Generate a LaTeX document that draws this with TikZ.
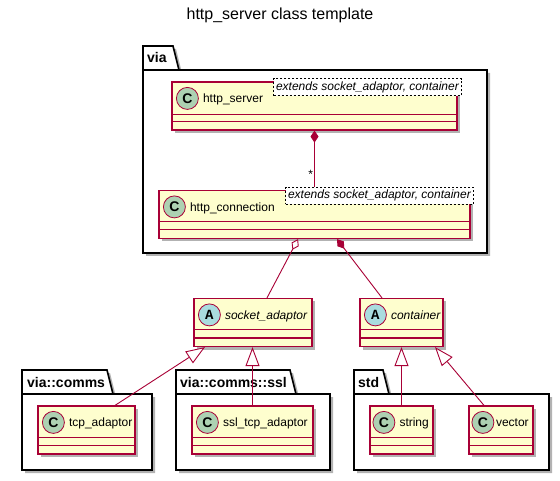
\documentclass[tikz,border=0pt]{standalone}
\usepackage{fontspec}
\setmainfont{Liberation Sans}
\newfontfamily\monobf{Liberation Mono}
\usepackage{xcolor}
\usepackage{tikz}
\usetikzlibrary{positioning,arrows.meta,shadows}

\definecolor{umlfill}{HTML}{FEFECE}
\definecolor{umlred}{HTML}{A80036}
\definecolor{circC}{HTML}{ADD1B2}
\definecolor{circA}{HTML}{A9DCDF}

\begin{document}
\begin{tikzpicture}[x=1pt, y=-1pt,
  cls/.style={draw=umlred, fill=umlfill, line width=1.2pt, minimum height=48pt,
              inner sep=0pt,
              drop shadow={shadow xshift=3pt, shadow yshift=-3pt, fill=black, opacity=.3}},
  sep/.style={draw=umlred, line width=1.2pt},
  circ/.style={circle, draw=umlred, line width=.8pt, minimum size=22pt, inner sep=0pt,
               font=\fontsize{14}{14}\selectfont\bfseries},
  clsname/.style={inner sep=0pt, anchor=base west, font=\fontsize{12}{14}\selectfont},
  absname/.style={clsname, font=\fontsize{12}{14}\selectfont\itshape},
  tmpl/.style={draw, dash pattern=on 2pt off 2pt, fill=white, line width=.6pt,
               inner xsep=2.5pt, inner ysep=0pt, minimum height=17pt, anchor=north east,
               font=\fontsize{12}{14}\selectfont\itshape},
  pkg/.style={draw=black, line width=1.6pt, fill=white,
              drop shadow={shadow xshift=3pt, shadow yshift=-3pt, fill=black, opacity=.3}},
  pkgname/.style={inner sep=0pt, anchor=base west, font=\fontsize{14}{16}\selectfont\bfseries},
  arr/.style={draw=umlred, line width=.9pt},
  comp/.style={arr, {Diamond[length=12pt, width=8pt, fill=umlred]}-},
  aggr/.style={arr, {Diamond[open, length=12pt, width=8pt, fill=white]}-},
  ext/.style={arr, -{Triangle[open, length=19pt, width=14pt, fill=white]}},
]
  \fill[white] (0,0) rectangle (560,481);
  \useasboundingbox (0,0) rectangle (560,481);

  \node[anchor=base, font=\fontsize{16}{18}\selectfont] (title) at (280,19.5)
    {http\_server class template};

  % packages
  \draw[pkg] (143,46) -- (173,46) -- (179,70) -- (487,70) -- (487,253) -- (143,253) -- cycle;
  \draw[line width=1.6pt] (143,70) -- (179,70);
  \node[pkgname] (via) at (147,63) {via};

  \draw[pkg] (22,370) -- (107,370) -- (113,394) -- (152,394) -- (152,470) -- (22,470) -- cycle;
  \draw[line width=1.6pt] (22,394) -- (113,394);
  \node[pkgname] (comms) at (27,387) {via::comms};

  \draw[pkg] (176,370) -- (290,370) -- (296,394) -- (330,394) -- (330,470) -- (176,470) -- cycle;
  \draw[line width=1.6pt] (176,394) -- (296,394);
  \node[pkgname] (ssl) at (180,387) {via::comms::ssl};

  \draw[pkg] (354,370) -- (383,370) -- (389,394) -- (549,394) -- (549,470) -- (354,470) -- cycle;
  \draw[line width=1.6pt] (354,394) -- (389,394);
  \node[pkgname] (std) at (358,387) {std};

  % classes
  \node[cls, minimum width=285pt] (server) at (314.5,106) {};
  \node[circ, fill=circC] (serverC) at ([xshift=16pt, yshift=-17pt]server.north west) {C};
  \node[clsname] (serverN) at ([xshift=4pt, yshift=-4.5pt]serverC.east) {http\_server};
  \node[tmpl] (serverT) at ([xshift=4pt, yshift=3pt]server.north east)
    {extends socket\_adaptor, container};

  \node[cls, minimum width=311pt] (conn) at (314.5,214.5) {};
  \node[circ, fill=circC] (connC) at ([xshift=16pt, yshift=-17pt]conn.north west) {C};
  \node[clsname] (connN) at ([xshift=4pt, yshift=-4.5pt]connC.east) {http\_connection};
  \node[tmpl] (connT) at ([xshift=3pt, yshift=3pt]conn.north east)
    {extends socket\_adaptor, container};

  \node[cls, minimum width=118pt] (socket) at (253,322.5) {};
  \node[circ, fill=circA, font=\fontsize{14}{14}\monobf\bfseries] (socketC)
    at ([xshift=16pt, yshift=-17pt]socket.north west) {A};
  \node[absname] (socketN) at ([xshift=4pt, yshift=-4.5pt]socketC.east) {socket\_adaptor};

  \node[cls, minimum width=83pt] (container) at (401.5,322.5) {};
  \node[circ, fill=circA, font=\fontsize{14}{14}\monobf\bfseries] (containerC)
    at ([xshift=16pt, yshift=-17pt]container.north west) {A};
  \node[absname] (containerN) at ([xshift=4pt, yshift=-4.5pt]containerC.east) {container};

  \node[cls, minimum width=97pt] (tcp) at (86.5,430) {};
  \node[circ, fill=circC] (tcpC) at ([xshift=16pt, yshift=-17pt]tcp.north west) {C};
  \node[clsname] (tcpN) at ([xshift=4pt, yshift=-4.5pt]tcpC.east) {tcp\_adaptor};

  \node[cls, minimum width=121pt] (ssltcp) at (252.5,430) {};
  \node[circ, fill=circC] (ssltcpC) at ([xshift=16pt, yshift=-17pt]ssltcp.north west) {C};
  \node[clsname] (ssltcpN) at ([xshift=4pt, yshift=-4.5pt]ssltcpC.east) {ssl\_tcp\_adaptor};

  \node[cls, minimum width=63pt] (string) at (401.5,430) {};
  \node[circ, fill=circC] (stringC) at ([xshift=14.5pt, yshift=-17pt]string.north west) {C};
  \node[clsname] (stringN) at ([xshift=4pt, yshift=-4.5pt]stringC.east) {string};

  \node[cls, minimum width=64pt] (vector) at (501,430) {};
  \node[circ, fill=circC] (vectorC) at ([xshift=14.5pt, yshift=-17pt]vector.north west) {C};
  \node[clsname] (vectorN) at ([xshift=1.5pt, yshift=-4.5pt]vectorC.east) {vector};

  % empty compartments
  \draw[sep] ([yshift=-33pt]server.north west) -- ([yshift=-33pt]server.north east)
             ([yshift=-40pt]server.north west) -- ([yshift=-40pt]server.north east);
  \draw[sep] ([yshift=-32pt]conn.north west) -- ([yshift=-32pt]conn.north east)
             ([yshift=-40pt]conn.north west) -- ([yshift=-40pt]conn.north east);
  \draw[sep] ([yshift=-32pt]socket.north west) -- ([yshift=-32pt]socket.north east)
             ([yshift=-40pt]socket.north west) -- ([yshift=-40pt]socket.north east);
  \draw[sep] ([yshift=-32pt]container.north west) -- ([yshift=-32pt]container.north east)
             ([yshift=-40pt]container.north west) -- ([yshift=-40pt]container.north east);
  \draw[sep] ([yshift=-32pt]tcp.north west) -- ([yshift=-32pt]tcp.north east)
             ([yshift=-40pt]tcp.north west) -- ([yshift=-40pt]tcp.north east);
  \draw[sep] ([yshift=-32pt]ssltcp.north west) -- ([yshift=-32pt]ssltcp.north east)
             ([yshift=-40pt]ssltcp.north west) -- ([yshift=-40pt]ssltcp.north east);
  \draw[sep] ([yshift=-32pt]string.north west) -- ([yshift=-32pt]string.north east)
             ([yshift=-40pt]string.north west) -- ([yshift=-40pt]string.north east);
  \draw[sep] ([yshift=-32pt]vector.north west) -- ([yshift=-32pt]vector.north east)
             ([yshift=-40pt]vector.north west) -- ([yshift=-40pt]vector.north east);

  % relations
  \draw[comp] (server.south) -- (server.south |- connT.north)
    node[at end, anchor=base east, xshift=-1pt, yshift=8.5pt, inner sep=0pt,
         font=\fontsize{12}{14}\selectfont] (many) {*};
  \draw[aggr] ([xshift=-16.5pt]conn.south) -- ([xshift=14pt]socket.north);
  \draw[comp] ([xshift=22.5pt]conn.south) -- ([xshift=-19.5pt]container.north);
  \draw[ext] ([xshift=28.5pt]tcp.north) -- ([xshift=-48pt]socket.south);
  \draw[ext] (ssltcp.north) -- (ssltcp.north |- socket.south);
  \draw[ext] (string.north) -- (container.south);
  \draw[ext] ([xshift=-17pt]vector.north) -- ([xshift=33.5pt]container.south);
\end{tikzpicture}
\end{document}
